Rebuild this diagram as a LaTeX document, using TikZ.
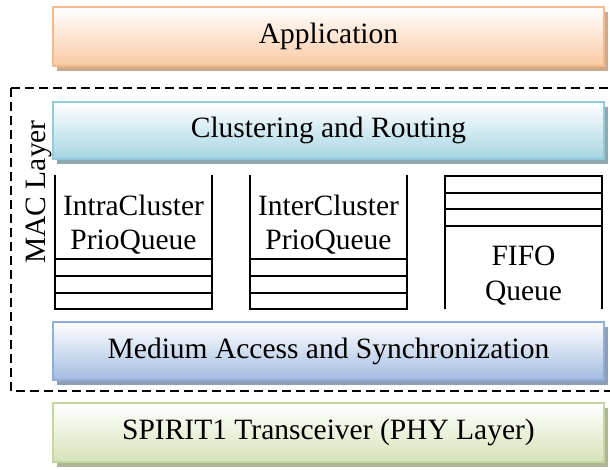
\documentclass[tikz,border=0pt]{standalone}
\usepackage{fontspec}
\setmainfont{Liberation Serif}
\definecolor{appline}{HTML}{F6B98C}
\definecolor{appfill}{HTML}{FBC9A2}
\definecolor{appshade}{HTML}{CCAA8C}
\definecolor{cluline}{HTML}{92CCDA}
\definecolor{clufill}{HTML}{A6D5E2}
\definecolor{clushade}{HTML}{8DAAB2}
\definecolor{medline}{HTML}{8FAEDA}
\definecolor{medfill}{HTML}{A3BCE0}
\definecolor{medshade}{HTML}{8D9EB6}
\definecolor{phyline}{HTML}{C6D79E}
\definecolor{phyfill}{HTML}{D6E3B8}
\definecolor{physhade}{HTML}{AEB597}
\tikzset{
  every node/.style={font=\fontsize{29.5}{34}\selectfont, text=black},
  layerbox/.style={minimum width=551pt, inner sep=0pt, line width=1.6pt},
  queueline/.style={line width=1.4pt, black},
  mactext/.style={rotate=90},
}
\begin{document}
\begin{tikzpicture}[x=1pt, y=-1pt]
\useasboundingbox (0,0) rectangle (610,469);

% drop shadows behind the layer boxes
\fill[appshade] (57,12) rectangle (608,71);
\fill[clushade] (57,107) rectangle (608,164);
\fill[medshade] (57,327) rectangle (608,385);
\fill[physhade] (57,408) rectangle (608,467);

% layer boxes
\node[layerbox, minimum height=59pt, draw=appline, top color=white, bottom color=appfill]
  (app) at (328.5,36.5) {Application};
\node[layerbox, minimum height=57pt, draw=cluline, top color=white, bottom color=clufill]
  (clu) at (328.5,130.5) {Clustering and Routing};
\node[layerbox, minimum height=58pt, draw=medline, top color=white, bottom color=medfill]
  (med) at (328.5,351) {Medium Access and Synchronization};
\node[layerbox, minimum height=59pt, draw=phyline, top color=white, bottom color=phyfill]
  (phy) at (328.5,432.5) {SPIRIT1 Transceiver (PHY Layer)};

% MAC layer frame
\draw[line width=1.8pt, dash pattern=on 8.5pt off 5.5pt] (11,88) -- (620,88)
  (11,88) -- (11,391) -- (620,391);
\node[mactext] (mac) at (38.5,192) {MAC Layer};

% intra-cluster priority queue (open at the top)
\draw[queueline] (55,175) -- (55,309) -- (212,309) -- (212,175);
\draw[queueline] (55,259) -- (212,259) (55,276) -- (212,276) (55,293) -- (212,293);
\node[align=center] (intra) at (133.5,225) {IntraCluster\\[0pt]PrioQueue};

% inter-cluster priority queue (open at the top)
\draw[queueline] (250,175) -- (250,309) -- (407,309) -- (407,175);
\draw[queueline] (250,259) -- (407,259) (250,276) -- (407,276) (250,293) -- (407,293);
\node[align=center] (inter) at (328.5,225) {InterCluster\\[0pt]PrioQueue};

% FIFO queue (open at the bottom)
\draw[queueline] (445,309) -- (445,176) -- (602,176) -- (602,309);
\draw[queueline] (445,193) -- (602,193) (445,209) -- (602,209) (445,226) -- (602,226);
\node[align=center] (fifo) at (523.5,276) {FIFO\\[1pt]Queue};
\end{tikzpicture}
\end{document}
